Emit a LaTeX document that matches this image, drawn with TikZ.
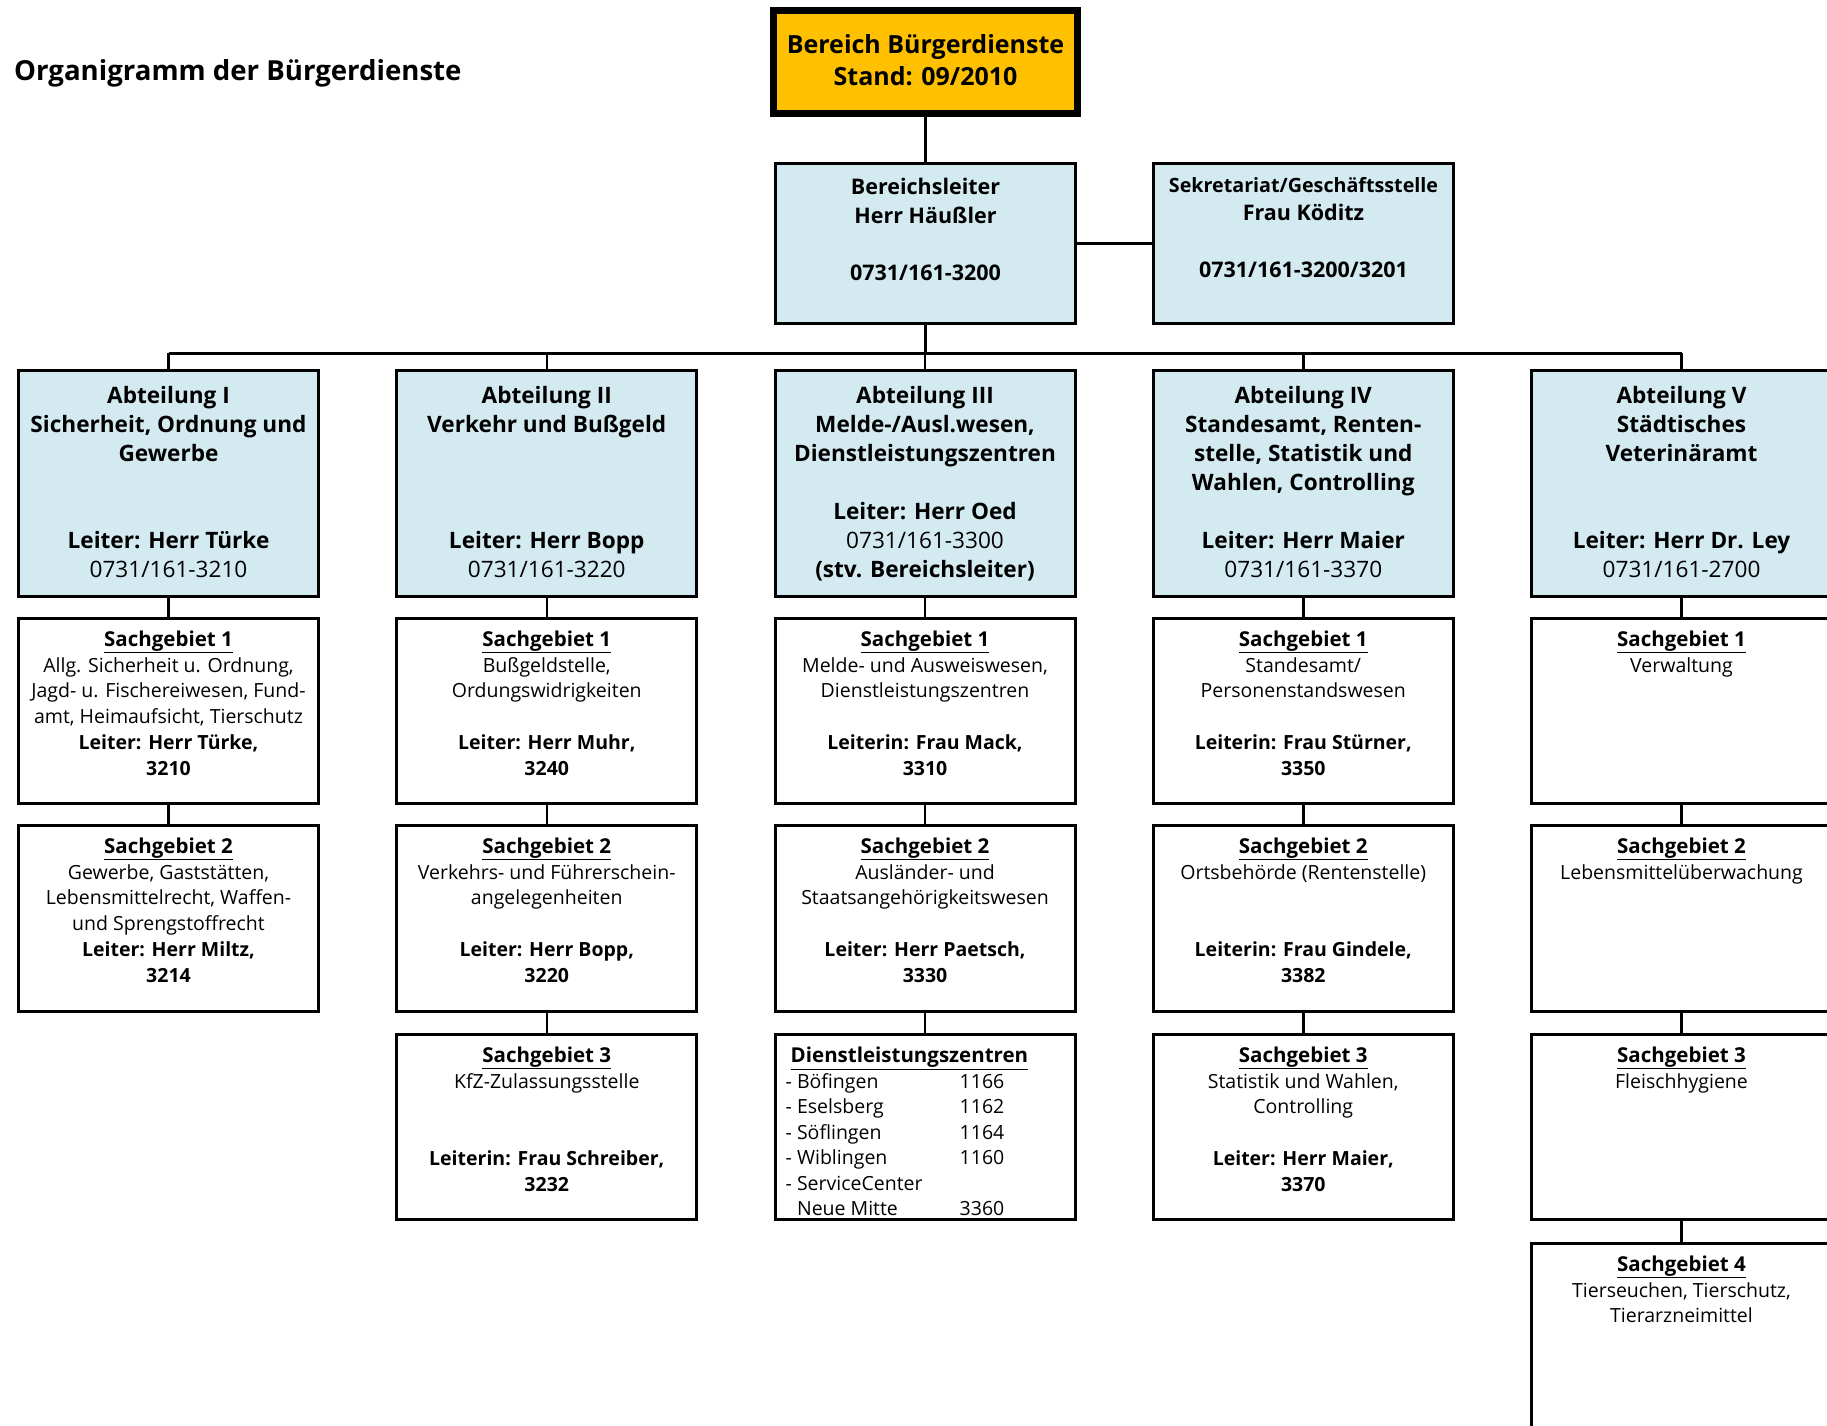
\documentclass[tikz,border=0pt]{standalone}
\usepackage{fontspec}
\setmainfont{Open Sans}
\definecolor{lightblue}{RGB}{211,234,240}
\definecolor{headorange}{RGB}{255,192,0}
\newcommand{\sghead}[1]{{\fontsize{20.5}{25.8}\selectfont\underline{\textbf{#1}}}}
\begin{document}
\begin{tikzpicture}[x=1pt,y=-1pt,
 conn/.style={line width=2.5pt},
 boxbase/.style={draw=black, line width=3pt, rectangle, inner sep=0pt, outer sep=0pt, minimum width=300pt},
 bluebox/.style={boxbase, fill=lightblue},
 whitebox/.style={boxbase, fill=white},
 topbox/.style={draw=black, line width=7pt, rectangle, inner sep=0pt, outer sep=0pt, fill=headorange, minimum width=304pt, minimum height=103pt},
 abttxt/.style={anchor=north, inner sep=0pt, align=center, font=\fontsize{22.6}{29}\selectfont\bfseries},
 bltxt/.style={anchor=north, inner sep=0pt, align=center, font=\fontsize{21.5}{28.7}\selectfont\bfseries},
 sgtxt/.style={anchor=north, inner sep=0pt, align=center, font=\fontsize{19.5}{25.8}\selectfont},
 dlztxt/.style={anchor=north west, inner sep=0pt, align=left, font=\fontsize{19.5}{25.5}\selectfont},
]
\useasboundingbox (0,0) rectangle (1827,1425);
\clip (0,0) rectangle (1827,1425);

% title
\node[anchor=base west, inner sep=0pt, font=\fontsize{27.6}{32}\selectfont\bfseries] (title) at (14,80) {Organigramm der Bürgerdienste};

% top box
\node[topbox] (top) at (925.5,62) {};
\node[anchor=north, inner sep=0pt, align=center, font=\fontsize{25}{32}\selectfont\bfseries] (toptxt) at ([yshift=-20pt]top.north) {\strut Bereich Bürgerdienste\\Stand: 09/2010};

% Bereichsleiter and Sekretariat
\node[bluebox, minimum height=160pt] (bl) at (925.5,243.5) {};
\node[bluebox, minimum height=160pt] (sek) at (1303.5,243.5) {};
\node[bltxt] (bltext) at ([yshift=-11pt]bl.north) {\strut Bereichsleiter\\Herr Häußler\\\strut\\0731/161-3200};
\node[bltxt, font=\fontsize{21.5}{28.5}\selectfont\bfseries] (sektext) at ([yshift=-8.5pt]sek.north) {\strut{\fontsize{19.7}{28.5}\selectfont Sekretariat/Geschäftsstelle}\\Frau Köditz\\\strut\\0731/161-3200/3201};

\draw[conn] (top.south) -- (bl.north);
\draw[conn] (bl.east) -- (sek.west);

% Abteilungen
\node[bluebox, minimum height=226pt] (a1) at (168.5,483.5) {};
\node[bluebox, minimum height=226pt] (a2) at (546.75,483.5) {};
\node[bluebox, minimum height=226pt] (a3) at (925,483.5) {};
\node[bluebox, minimum height=226pt] (a4) at (1303.25,483.5) {};
\node[bluebox, minimum height=226pt] (a5) at (1681.5,483.5) {};

\coordinate (busL) at (168.5,353);
\coordinate (busR) at (1681.5,353);
\draw[conn, line width=3pt] (busL) -- (busR);
\draw[conn] (bl.south) -- (bl.south |- busL);
\foreach \n in {a1,a2,a3,a4,a5} {\draw[conn] (\n.north) -- (\n.north |- busL);}

\node[abttxt] (t1) at ([yshift=-12pt]a1.north) {\strut Abteilung I\\Sicherheit, Ordnung und\\Gewerbe\\\strut\\\strut\\Leiter: Herr Türke\\{\mdseries 0731/161-3210}};
\node[abttxt] (t2) at ([yshift=-12pt]a2.north) {\strut Abteilung II\\Verkehr und Bußgeld\\\strut\\\strut\\\strut\\Leiter: Herr Bopp\\{\mdseries 0731/161-3220}};
\node[abttxt] (t3) at ([yshift=-12pt]a3.north) {\strut Abteilung III\\Melde-/Ausl.wesen,\\Dienstleistungszentren\\\strut\\Leiter: Herr Oed\\{\mdseries 0731/161-3300}\\(stv. Bereichsleiter)};
\node[abttxt] (t4) at ([yshift=-12pt]a4.north) {\strut Abteilung IV\\Standesamt, Renten-\\stelle, Statistik und\\Wahlen, Controlling\\\strut\\Leiter: Herr Maier\\{\mdseries 0731/161-3370}};
\node[abttxt] (t5) at ([yshift=-12pt]a5.north) {\strut Abteilung V\\Städtisches\\Veterinäramt\\\strut\\\strut\\Leiter: Herr Dr. Ley\\{\mdseries 0731/161-2700}};

% Sachgebiet boxes
\foreach \c/\x in {1/168.5,2/546.75,3/925,4/1303.25,5/1681.5} {
  \node[whitebox, minimum height=185pt] (s\c1) at (\x,711) {};
  \node[whitebox, minimum height=186pt] (s\c2) at (\x,918.5) {};
}
\foreach \c/\x in {2/546.75,3/925,4/1303.25,5/1681.5} {
  \node[whitebox, minimum height=185pt] (s\c3) at (\x,1127) {};
}
\node[whitebox, minimum height=185pt] (s54) at (1681.5,1336) {};

\foreach \c in {1,2,3,4,5} {
  \draw[conn] (a\c.south) -- (s\c1.north);
  \draw[conn] (s\c1.south) -- (s\c2.north);
}
\foreach \c in {2,3,4,5} {\draw[conn] (s\c2.south) -- (s\c3.north);}
\draw[conn] (s53.south) -- (s54.north);

% texts column 1
\node[sgtxt] (x11) at ([yshift=-9.5pt]s11.north) {\strut\sghead{Sachgebiet 1}\\Allg. Sicherheit u. Ordnung,\\Jagd- u. Fischereiwesen, Fund-\\amt, Heimaufsicht, Tierschutz\\\textbf{Leiter: Herr Türke,}\\\textbf{3210}};
\node[sgtxt] (x12) at ([yshift=-9.5pt]s12.north) {\strut\sghead{Sachgebiet 2}\\Gewerbe, Gaststätten,\\Lebensmittelrecht, Waffen-\\und Sprengstoffrecht\\\textbf{Leiter: Herr Miltz,}\\\textbf{3214}};
% column 2
\node[sgtxt] (x21) at ([yshift=-9.5pt]s21.north) {\strut\sghead{Sachgebiet 1}\\Bußgeldstelle,\\Ordungswidrigkeiten\\\strut\\\textbf{Leiter: Herr Muhr,}\\\textbf{3240}};
\node[sgtxt] (x22) at ([yshift=-9.5pt]s22.north) {\strut\sghead{Sachgebiet 2}\\Verkehrs- und Führerschein-\\angelegenheiten\\\strut\\\textbf{Leiter: Herr Bopp,}\\\textbf{3220}};
\node[sgtxt] (x23) at ([yshift=-9.5pt]s23.north) {\strut\sghead{Sachgebiet 3}\\KfZ-Zulassungsstelle\\\strut\\\strut\\\textbf{Leiterin: Frau Schreiber,}\\\textbf{3232}};
% column 3
\node[sgtxt] (x31) at ([yshift=-9.5pt]s31.north) {\strut\sghead{Sachgebiet 1}\\Melde- und Ausweiswesen,\\Dienstleistungszentren\\\strut\\\textbf{Leiterin: Frau Mack,}\\\textbf{3310}};
\node[sgtxt] (x32) at ([yshift=-9.5pt]s32.north) {\strut\sghead{Sachgebiet 2}\\Ausländer- und\\Staatsangehörigkeitswesen\\\strut\\\textbf{Leiter: Herr Paetsch,}\\\textbf{3330}};
\node[dlztxt] (x33) at ([xshift=10.5pt,yshift=-10pt]s33.north west) {\strut\hspace*{5pt}\sghead{Dienstleistungszentren}\\
\makebox[174pt][l]{- Böfingen}1166\\
\makebox[174pt][l]{- Eselsberg}1162\\
\makebox[174pt][l]{- Söflingen}1164\\
\makebox[174pt][l]{- Wiblingen}1160\\
- ServiceCenter\\
\makebox[174pt][l]{\phantom{- }Neue Mitte}3360};
% column 4
\node[sgtxt] (x41) at ([yshift=-9.5pt]s41.north) {\strut\sghead{Sachgebiet 1}\\Standesamt/\\Personenstandswesen\\\strut\\\textbf{Leiterin: Frau Stürner,}\\\textbf{3350}};
\node[sgtxt] (x42) at ([yshift=-9.5pt]s42.north) {\strut\sghead{Sachgebiet 2}\\Ortsbehörde (Rentenstelle)\\\strut\\\strut\\\textbf{Leiterin: Frau Gindele,}\\\textbf{3382}};
\node[sgtxt] (x43) at ([yshift=-9.5pt]s43.north) {\strut\sghead{Sachgebiet 3}\\Statistik und Wahlen,\\Controlling\\\strut\\\textbf{Leiter: Herr Maier,}\\\textbf{3370}};
% column 5
\node[sgtxt] (x51) at ([yshift=-9.5pt]s51.north) {\strut\sghead{Sachgebiet 1}\\Verwaltung};
\node[sgtxt] (x52) at ([yshift=-9.5pt]s52.north) {\strut\sghead{Sachgebiet 2}\\Lebensmittelüberwachung};
\node[sgtxt] (x53) at ([yshift=-9.5pt]s53.north) {\strut\sghead{Sachgebiet 3}\\Fleischhygiene};
\node[sgtxt] (x54) at ([yshift=-9.5pt]s54.north) {\strut\sghead{Sachgebiet 4}\\Tierseuchen, Tierschutz,\\Tierarzneimittel};
\end{tikzpicture}
\end{document}
